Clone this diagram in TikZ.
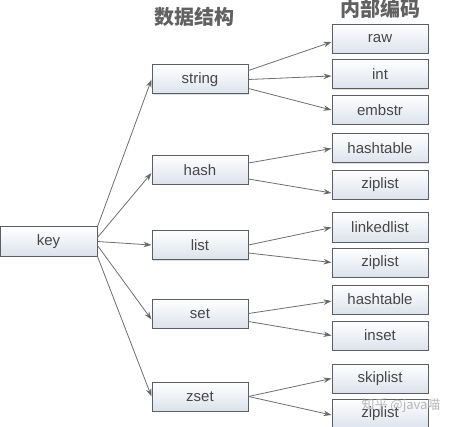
\documentclass[tikz,border=0pt]{standalone}
\usepackage{fontspec}
\setmainfont{Liberation Sans}
\newfontfamily\cjk{Noto Sans CJK SC}
\usetikzlibrary{arrows.meta,shadows}

\definecolor{boxfill}{HTML}{DCE2EC}
\definecolor{boxline}{HTML}{5A5F66}
\definecolor{arrline}{HTML}{6E6E6E}

\tikzset{
    box/.style={draw=boxline, line width=1pt, top color=white, bottom color=boxfill,
        minimum width=96pt, minimum height=29pt, inner sep=0pt,
        text=black!72, font=\fontsize{15}{18}\selectfont,
        drop shadow={shadow xshift=1pt, shadow yshift=-1pt, opacity=0.25}},
    title/.style={text=black!62, font=\cjk\bfseries\fontsize{20}{22}\selectfont},
    arr/.style={draw=arrline, line width=0.8pt,
        -{Stealth[length=8pt,width=5.5pt,fill=black!70]}}
}

\begin{document}
\begin{tikzpicture}[x=1pt,y=-1pt]
    \useasboundingbox (0,0) rectangle (454,427);

    % titles
    \node[title] (tds) at (194,17) {数据结构};
    \node[title] (tenc) at (380,9) {内部编码};

    % key
    \node[box, minimum width=97pt] (key) at (48.5,241.5) {key};

    % data structures
    \node[box] (string) at (200,79.5) {string};
    \node[box] (hash) at (200,170) {hash};
    \node[box] (list) at (200,245) {list};
    \node[box] (set) at (200,313.5) {set};
    \node[box] (zset) at (200,396.5) {zset};

    % encodings
    \node[box] (raw) at (380,39) {raw};
    \node[box] (int) at (380,74.5) {int};
    \node[box] (embstr) at (380,110) {embstr};
    \node[box] (hashtableA) at (380,148.5) {hashtable};
    \node[box] (ziplistA) at (380,185) {ziplist};
    \node[box] (linkedlist) at (380,227.5) {linkedlist};
    \node[box] (ziplistB) at (380,262.5) {ziplist};
    \node[box] (hashtableB) at (380,299.5) {hashtable};
    \node[box] (inset) at (380,335.5) {inset};
    \node[box] (skiplist) at (380,378.5) {skiplist};
    \node[box] (ziplistC) at (380,414) {ziplist};

    \begin{scope}[arr]
        \draw (key.north east) -- (string.west);
        \draw ([yshift=4pt]key.east) -- ([yshift=-3pt]hash.west);
        \draw (key.east) -- (list.west);
        \draw ([yshift=-4pt]key.east) -- ([yshift=-6pt]set.west);
        \draw (key.south east) -- (zset.west);

        \draw ([yshift=9pt]string.east) -- ([yshift=-3pt]raw.west);
        \draw (string.east) -- ([yshift=-1.5pt]int.west);
        \draw ([yshift=-9pt]string.east) -- (embstr.west);

        \draw ([yshift=7pt]hash.east) -- (hashtableA.west);
        \draw ([yshift=-9pt]hash.east) -- ([yshift=-8pt]ziplistA.west);

        \draw (list.east) -- (linkedlist.west);
        \draw ([yshift=-8pt]list.east) -- (ziplistB.west);

        \draw (set.east) -- ([yshift=-1.5pt]hashtableB.west);
        \draw ([yshift=-8pt]set.east) -- (inset.west);

        \draw (zset.east) -- (skiplist.west);
        \draw (zset.east) -- ([yshift=-1pt]ziplistC.west);
    \end{scope}

    % watermark
    \node[text=black!35, opacity=0.8, font=\cjk\fontsize{13}{15}\selectfont] (mark) at (401,406) {知乎 @java喵};
\end{tikzpicture}
\end{document}
